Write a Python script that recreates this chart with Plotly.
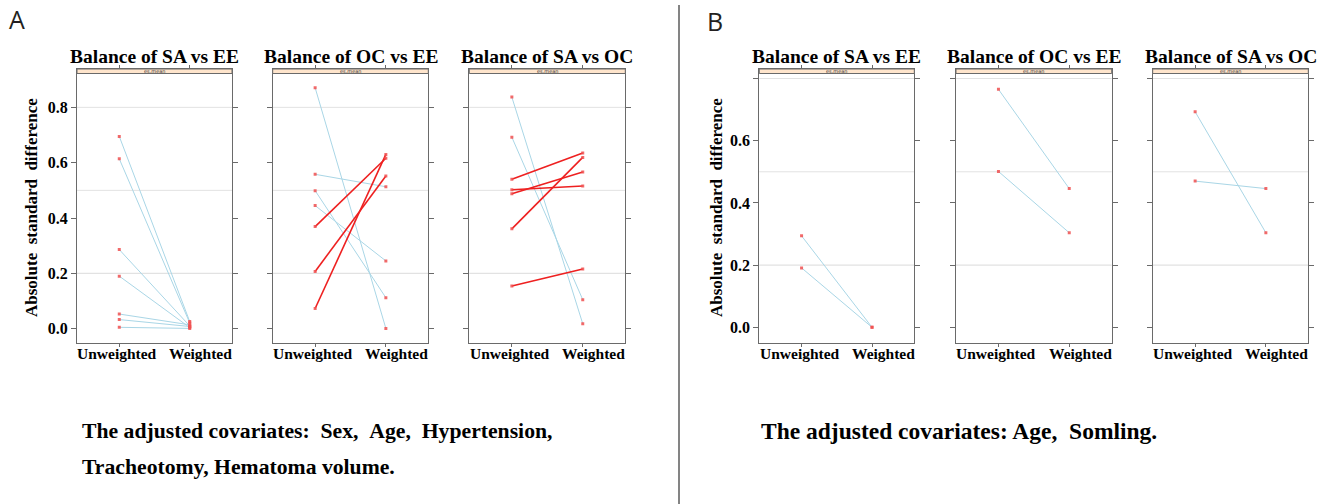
import plotly.graph_objects as go

W, H = 1330, 504

categories = ["Unweighted", "Weighted"]

# Absolute standardized mean differences per covariate (es.mean)
# Group A
a_sa_ee_unw = [0.695, 0.614, 0.286, 0.190, 0.053, 0.033, 0.005]
a_sa_ee_w   = [0.026, 0.021, 0.010, 0.004, 0.014, 0.008, 0.001]
a_oc_ee_unw = [0.871, 0.558, 0.499, 0.445, 0.369, 0.207, 0.073]
a_oc_ee_w   = [0.001, 0.513, 0.112, 0.245, 0.616, 0.552, 0.630]
a_sa_oc_unw = [0.837, 0.692, 0.540, 0.502, 0.488, 0.361, 0.154]
a_sa_oc_w   = [0.018, 0.105, 0.635, 0.516, 0.566, 0.619, 0.216]
# Group B
b_sa_ee_unw = [0.294, 0.191]
b_sa_ee_w   = [0.000, 0.000]
b_oc_ee_unw = [0.765, 0.501]
b_oc_ee_w   = [0.446, 0.304]
b_sa_oc_unw = [0.693, 0.470]
b_sa_oc_w   = [0.304, 0.446]

panel_titles = ["Balance of SA vs EE", "Balance of OC vs EE", "Balance of SA vs OC"]
strip_label = "es.mean"
y_title = "Absolute\u00a0\u00a0standard\u00a0\u00a0difference"
ref_lines = [0.2, 0.5, 0.8]
a_yticks = [0.0, 0.2, 0.4, 0.6, 0.8]
b_yticks = [0.0, 0.2, 0.4, 0.6, 0.8]
b_ylabels = ["0.0", "0.2", "0.4", "0.6", ""]
note_a = ["The adjusted covariates:\u00a0\u00a0Sex,\u00a0\u00a0Age,\u00a0\u00a0Hypertension,",
          "Tracheotomy, Hematoma volume."]
note_b = "The adjusted covariates: Age,\u00a0\u00a0Somling."

panels = [
    ("A", panel_titles[0], a_sa_ee_unw, a_sa_ee_w),
    ("A", panel_titles[1], a_oc_ee_unw, a_oc_ee_w),
    ("A", panel_titles[2], a_sa_oc_unw, a_sa_oc_w),
    ("B", panel_titles[0], b_sa_ee_unw, b_sa_ee_w),
    ("B", panel_titles[1], b_oc_ee_unw, b_oc_ee_w),
    ("B", panel_titles[2], b_sa_oc_unw, b_sa_oc_w),
]

# panel boxes in pixels (left, right); shared vertical extent
x_boxes = [(77, 232), (272.7, 428.3), (469.3, 625.3),
           (759.3, 914.3), (956, 1111.7), (1152.7, 1308.3)]
box_top, strip_bottom, box_bottom = 69.0, 73.5, 342.7
y_ranges = {"A": [-0.0506, 0.9386], "B": [-0.0495, 0.8305]}

# horizontal nudges of the category labels relative to their ticks
x_label_shift = [-2, 11]


def px(x):
    return x / W


def py(y):
    return 1 - y / H


SERIF = "Liberation Serif"
AXIS_COL = "#6a6a6a"
BLUE = "#a9d6e6"
RED = "#ee2020"
PT = "rgba(240,80,80,0.85)"

fig = go.Figure()
layout = dict(width=W, height=H, autosize=False,
              margin=dict(l=0, r=0, t=0, b=0),
              paper_bgcolor="white", plot_bgcolor="white",
              showlegend=False)
shapes, annotations = [], []

for i, (grp, title, unw, wtd) in enumerate(panels):
    n = i + 1
    xa = "x" if n == 1 else f"x{n}"
    ya = "y" if n == 1 else f"y{n}"
    first = i % 3 == 0
    x0, x1 = x_boxes[i]

    for v in ref_lines:
        shapes.append(dict(type="line", xref=f"{xa} domain", yref=ya,
                           x0=0, x1=1, y0=v, y1=v, layer="below",
                           line=dict(color="#e2e2e2", width=1.3 if v == 0.2 else 1)))

    for u, w in zip(unw, wtd):
        fig.add_trace(go.Scatter(
            x=categories, y=[u, w], mode="lines", xaxis=xa, yaxis=ya,
            line=dict(color=RED if w > u else BLUE, width=1.6 if w > u else 1),
            hoverinfo="skip"))
    fig.add_trace(go.Scatter(
        x=[categories[0]] * len(unw) + [categories[1]] * len(wtd),
        y=list(unw) + list(wtd), mode="markers", xaxis=xa, yaxis=ya,
        marker=dict(color=PT, size=3, symbol="square"), hoverinfo="skip"))

    layout["xaxis" if n == 1 else f"xaxis{n}"] = dict(
        domain=[px(x0), px(x1)], anchor=ya, type="category",
        categoryorder="array", categoryarray=categories,
        tickvals=categories, showticklabels=False,
        range=[-0.6, 1.6], showgrid=False, zeroline=False,
        showline=True, mirror="ticks", linecolor=AXIS_COL, linewidth=1,
        ticks="outside", ticklen=3, tickcolor=AXIS_COL)
    yt = a_yticks if grp == "A" else b_yticks
    yl = [f"{v:.1f}" for v in a_yticks] if grp == "A" else b_ylabels
    layout["yaxis" if n == 1 else f"yaxis{n}"] = dict(
        domain=[py(box_bottom), py(box_top)], anchor=xa,
        range=y_ranges[grp], showgrid=False, zeroline=False,
        showline=True, mirror="ticks", linecolor=AXIS_COL, linewidth=1,
        ticks="outside", ticklen=5, tickcolor=AXIS_COL,
        tickvals=yt, ticktext=yl, showticklabels=first,
        tickfont=dict(family=SERIF, size=16, color="black", weight="bold"))

    # category labels under each panel
    for cat, shift in zip(categories, x_label_shift):
        annotations.append(dict(text=f"<b>{cat}</b>", xref=xa, yref="paper",
                                x=cat, y=py(353.5), xshift=shift, showarrow=False,
                                xanchor="center", yanchor="middle",
                                font=dict(family=SERIF, size=15.5, color="black")))

    # strip with the statistic name
    shapes.append(dict(type="rect", xref="paper", yref="paper",
                       x0=px(x0), x1=px(x1), y0=py(strip_bottom), y1=py(box_top),
                       fillcolor="#ffe5cc", line=dict(color=AXIS_COL, width=1)))
    annotations.append(dict(text=strip_label, xref="paper", yref="paper",
                            x=px((x0 + x1) / 2), y=py((box_top + strip_bottom) / 2),
                            showarrow=False, xanchor="center", yanchor="middle",
                            font=dict(family="DejaVu Sans", size=5, color="#333")))
    annotations.append(dict(text=f"<b>{title}</b>", xref="paper", yref="paper",
                            x=px((x0 + x1) / 2), y=py(56.5),
                            showarrow=False, xanchor="center", yanchor="middle",
                            font=dict(family=SERIF, size=19.5, color="black")))

# shared y titles
for xc in (31, 716):
    annotations.append(dict(text=f"<b>{y_title}</b>", xref="paper", yref="paper",
                            x=px(xc), y=py(208), textangle=-90, showarrow=False,
                            xanchor="center", yanchor="middle",
                            font=dict(family=SERIF, size=17, color="black")))

# group letters
for lab, xl, yl in (("A", 7, 19), ("B", 705, 21)):
    annotations.append(dict(text=lab, xref="paper", yref="paper",
                            x=px(xl), y=py(yl), showarrow=False,
                            xanchor="left", yanchor="middle",
                            font=dict(family="Open Sans", size=25, color="#231f20")))

# covariate notes
annotations.append(dict(text=f"<b>{note_a[0]}</b>", xref="paper", yref="paper",
                        x=px(80), y=py(431), showarrow=False,
                        xanchor="left", yanchor="middle",
                        font=dict(family=SERIF, size=21.7, color="black")))
annotations.append(dict(text=f"<b>{note_a[1]}</b>", xref="paper", yref="paper",
                        x=px(80), y=py(467), showarrow=False,
                        xanchor="left", yanchor="middle",
                        font=dict(family=SERIF, size=21.7, color="black")))
annotations.append(dict(text=f"<b>{note_b}</b>", xref="paper", yref="paper",
                        x=px(759), y=py(431), showarrow=False,
                        xanchor="left", yanchor="middle",
                        font=dict(family=SERIF, size=23.5, color="black")))

# divider between the two groups
shapes.append(dict(type="line", xref="paper", yref="paper",
                   x0=px(679), x1=px(679), y0=py(504), y1=py(5),
                   line=dict(color="#777", width=1.8)))

layout["shapes"] = shapes
layout["annotations"] = annotations
fig.update_layout(**layout)
fig.write_html("out.html")
